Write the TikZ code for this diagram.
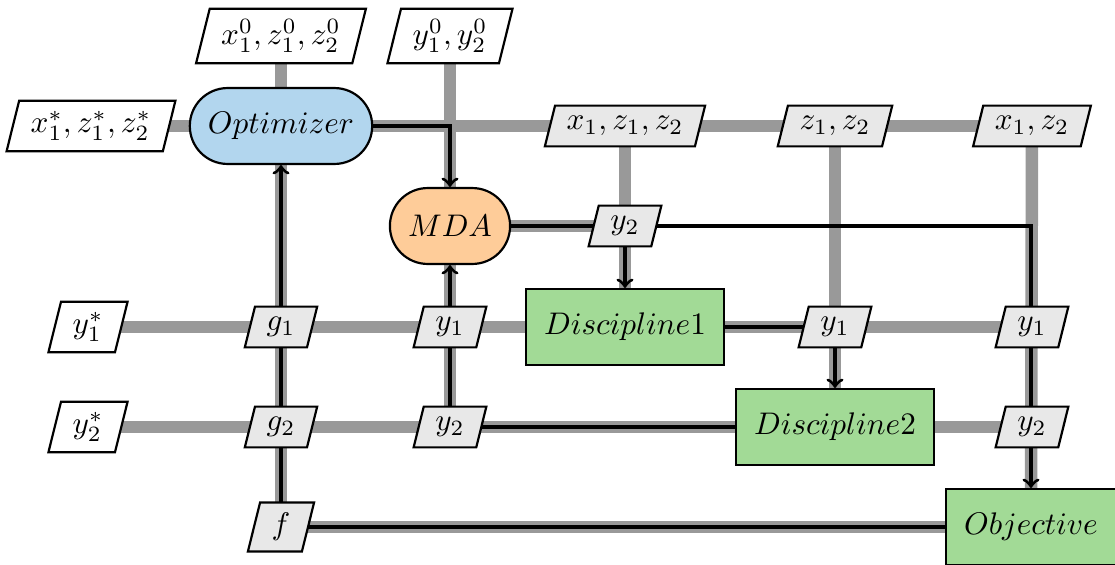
\documentclass[tikz,border=0pt]{standalone}
\usetikzlibrary{shapes.geometric}
\definecolor{optblue}{RGB}{178,214,238}
\definecolor{mdaorange}{RGB}{254,204,153}
\definecolor{discgreen}{RGB}{162,218,150}
\definecolor{iofill}{RGB}{232,232,232}
\definecolor{dataline}{RGB}{153,153,153}
\pgfdeclarelayer{datalayer}
\pgfdeclarelayer{proclayer}
\pgfsetlayers{datalayer,proclayer,main}
\begin{document}
\begin{tikzpicture}[x=0.32pt,y=-0.32pt,
  blk/.style={draw,line width=0.7pt,minimum height=24.3pt,inner xsep=5.8pt,inner ysep=2pt},
  optbox/.style={blk,rounded corners=12.1pt,fill=optblue},
  mdabox/.style={blk,rounded corners=12.1pt,fill=mdaorange},
  discbox/.style={blk,fill=discgreen},
  io/.style={draw,line width=0.7pt,trapezium,trapezium left angle=76,trapezium right angle=104,
    fill=iofill,inner xsep=3.7pt,inner ysep=3.4pt,minimum height=0pt,minimum width=0pt,
    execute at begin node={\vphantom{$y_1$}}},
  ioext/.style={io,fill=white},
  dataflow/.style={draw=dataline,line width=4pt},
  procflow/.style={draw=black,line width=1pt},
]
\useasboundingbox (0,0) rectangle (1115,565);

% diagonal components
\node[optbox]  (opt) at (281,126) {$Optimizer$};
\node[mdabox]  (mda) at (450,226) {$MDA$};
\node[discbox] (d1)  at (625,327) {$Discipline1$};
\node[discbox] (d2)  at (835,427) {$Discipline2$};
\node[discbox] (obj) at (1031,527) {$Objective$};

% external inputs and outputs
\node[ioext] (x0)     at (281,36)  {$x_1^0, z_1^0, z_2^0$};
\node[ioext] (y0)     at (450,36)  {$y_1^0, y_2^0$};
\node[ioext] (xstar)  at (91,126)  {$x_1^*, z_1^*, z_2^*$};
\node[ioext] (y1star) at (88,327)  {$y_1^*$};
\node[ioext] (y2star) at (88,427)  {$y_2^*$};

% exchanged data
\node[io] (xzz)  at (625,126)  {$x_1, z_1, z_2$};
\node[io] (zz)   at (835,126)  {$z_1, z_2$};
\node[io] (xz)   at (1032,126) {$x_1, z_2$};
\node[io] (y2m)  at (625,226)  {$y_2$};
\node[io] (g1)   at (281,327)  {$g_1$};
\node[io] (y1m)  at (450,327)  {$y_1$};
\node[io] (y1a)  at (835,327)  {$y_1$};
\node[io] (y1b)  at (1032,327) {$y_1$};
\node[io] (g2)   at (281,427)  {$g_2$};
\node[io] (y2b)  at (450,427)  {$y_2$};
\node[io] (y2c)  at (1032,427) {$y_2$};
\node[io] (f)    at (281,527)  {$f$};

% data connections
\begin{pgfonlayer}{datalayer}
  \draw[dataflow] (x0.center) -- (opt.center);
  \draw[dataflow] (y0.center) -- (mda.center);
  \draw[dataflow] (xstar.center) -- (xz.center);
  \draw[dataflow] (xzz.center) -- (d1.center);
  \draw[dataflow] (zz.center) -- (d2.center);
  \draw[dataflow] (xz.center) -- (obj.center);
  \draw[dataflow] (mda.center) -- (y2m.center);
  \draw[dataflow] (mda.center) -- (y2b.center);
  \draw[dataflow] (opt.center) -- (f.center);
  \draw[dataflow] (y1star.center) -- (y1b.center);
  \draw[dataflow] (y2star.center) -- (y2c.center);
  \draw[dataflow] (f.center) -- (obj.center);
\end{pgfonlayer}

% process flow
\begin{pgfonlayer}{proclayer}
  \draw[procflow,->] (opt.center) -| (mda);
  \draw[procflow,->] (mda.center) -| (d1);
  \draw[procflow,->] (mda.center) -| (obj);
  \draw[procflow,->] (d1.center) -| (d2);
  \draw[procflow,->] (d2.center) -| (mda);
  \draw[procflow,->] (obj.center) -| (opt);
\end{pgfonlayer}
\end{tikzpicture}
\end{document}
